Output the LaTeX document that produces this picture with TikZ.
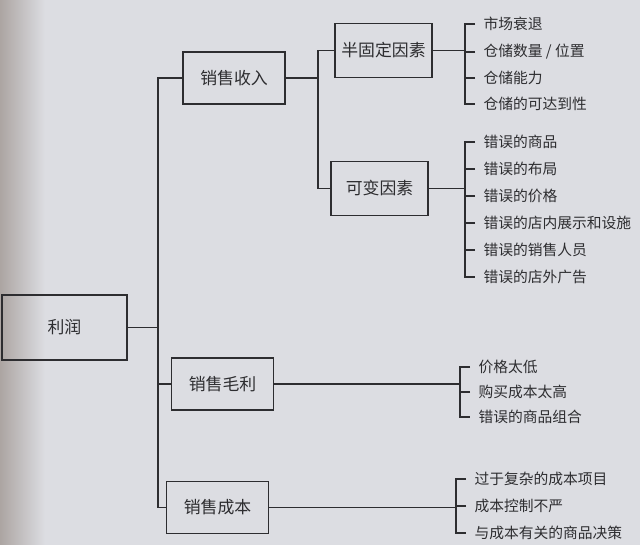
\documentclass[tikz,border=0pt]{standalone}
\usepackage{fontspec}
\setmainfont{Noto Sans CJK SC}
\definecolor{paper}{RGB}{220,221,226}
\definecolor{shadow}{RGB}{172,165,162}
\definecolor{ink}{RGB}{45,45,48}
\begin{document}
\begin{tikzpicture}
[x = 0.025cm, y = -0.025cm, line width = .8pt, color = ink,
box/.style = {draw, minimum width=2.55cm, minimum height=1.3cm, inner sep=0pt, font=\fontsize{12}{14}\selectfont},
item/.style = {anchor=west, inner sep=0pt, font=\fontsize{10.5}{12}\selectfont}]
\fill[paper] (0,0) rectangle (640,545);
\shade[left color=shadow, right color=paper, draw=none] (0,0) rectangle (45,545);
\useasboundingbox (0,0) rectangle (640,545);
% boxes
\node[box, minimum width=3.125cm, minimum height=1.625cm] (lirun) at (64.5,327.5) {利润};
\node[box] (shouru) at (234,78) {销售收入};
\node[box] (maoli) at (222.5,384) {销售毛利};
\node[box] (chengben) at (217.5,507.5) {销售成本};
\node[box, minimum width=2.425cm, minimum height=1.35cm] (guding) at (383.5,50.5) {半固定因素};
\node[box, minimum width=2.425cm, minimum height=1.35cm] (kebian) at (379.5,188.5) {可变因素};
% items
\node[item] (g1) at (483,24) {市场衰退};
\node[item] (g2) at (483,52) {仓储数量 / 位置};
\node[item] (g3) at (483,78) {仓储能力};
\node[item] (g4) at (483,104) {仓储的可达到性};
\node[item] (k1) at (483,142) {错误的商品};
\node[item] (k2) at (483,169) {错误的布局};
\node[item] (k3) at (483,196) {错误的价格};
\node[item] (k4) at (483,223) {错误的店内展示和设施};
\node[item] (k5) at (483,250) {错误的销售人员};
\node[item] (k6) at (483,277) {错误的店外广告};
\node[item] (m1) at (478,367) {价格太低};
\node[item] (m2) at (478,392) {购买成本太高};
\node[item] (m3) at (478,417) {错误的商品组合};
\node[item] (c1) at (474,479) {过于复杂的成本项目};
\node[item] (c2) at (474,506) {成本控制不严};
\node[item] (c3) at (474,533) {与成本有关的商品决策};
% tree
\coordinate (trunk) at (158,0);
\coordinate (fork) at (318,0);
\draw (lirun.east) -- (lirun.east -| trunk);
\draw (shouru.west) -- (shouru.west -| trunk) |- (chengben.west);
\draw (maoli.west) -- (maoli.west -| trunk);
\draw (shouru.east) -- (shouru.east -| fork);
\draw (guding.west) -- (guding.west -| fork) |- (kebian.west);
% brackets
\draw ([xshift=-.2cm]g1.west) -- ++(-10,0) coordinate (gb) |- ([xshift=-.2cm]g4.west);
\draw ([xshift=-.2cm]g2.west) -- ++(-10,0);
\draw ([xshift=-.2cm]g3.west) -- ++(-10,0);
\draw (guding.east) -- (guding.east -| gb);
\draw ([xshift=-.2cm]k1.west) -- ++(-10,0) coordinate (kb) |- ([xshift=-.2cm]k6.west);
\foreach \i in {2,...,5}
  \draw ([xshift=-.2cm]k\i.west) -- ++(-10,0);
\draw (kebian.east) -- (kebian.east -| kb);
\draw ([xshift=-.2cm]m1.west) -- ++(-10,0) coordinate (mb) |- ([xshift=-.2cm]m3.west);
\draw ([xshift=-.2cm]m2.west) -- ++(-10,0);
\draw (maoli.east) -- (maoli.east -| mb);
\draw ([xshift=-.2cm]c1.west) -- ++(-10,0) coordinate (cb) |- ([xshift=-.2cm]c3.west);
\draw ([xshift=-.2cm]c2.west) -- ++(-10,0);
\draw (chengben.east) -- (chengben.east -| cb);
\end{tikzpicture}
\end{document}
